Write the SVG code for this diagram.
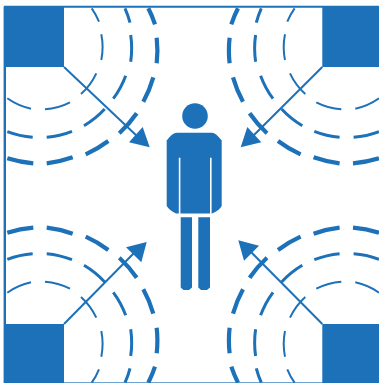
<svg xmlns="http://www.w3.org/2000/svg" width="379" height="383" viewBox="0 0 379 383">
<style>
.a{fill:none;stroke:#1c71b9}
.r1{stroke-width:2}
.r2{stroke-width:3}
.r3{stroke-width:4.2}
.s{fill:#1c71b9}
.c{stroke:#1c71b9;stroke-width:2;fill:none}
.h{fill:#1c71b9}
.f{stroke:#1c71b9;fill:none}
</style>
<defs>
<g id="waves">
<path class="a r1" d="M91.7 8.3A64.5 64.5 0 0 1 99 21.7M101.3 34.3A64.5 64.5 0 0 1 101.3 60M96.3 73.3A64.5 64.5 0 0 1 81 94M70 102.3A64.5 64.5 0 0 1 45 109.3M31 108.7A64.5 64.5 0 0 1 7.3 98.3"/>
<path class="a r2" d="M125 8.3A92.5 92.5 0 0 1 130 22.7M130.7 35A92.5 92.5 0 0 1 130.7 61.7M125.7 75.7A92.5 92.5 0 0 1 113.3 98.7M104.7 109A92.5 92.5 0 0 1 84 125.7M72 131.3A92.5 92.5 0 0 1 46.7 137.3M32.7 137.3A92.5 92.5 0 0 1 7.3 131.7"/>
<path class="a r3" d="M148.3 8.3A118.5 118.5 0 0 1 155 24.3M156.7 37.7A118.5 118.5 0 0 1 156.7 63.3M153.3 77.3A118.5 118.5 0 0 1 143.3 101.7M136.7 113.3A118.5 118.5 0 0 1 119.3 133.3M108.3 141A118.5 118.5 0 0 1 85.7 154.3M72.7 157.3A118.5 118.5 0 0 1 46.7 163.3M33.3 163.3A118.5 118.5 0 0 1 7.3 158.3"/>
</g>
</defs>
<rect width="379" height="383" fill="#fff"/>
<g id="frame">
<path class="f" stroke-width="2.4" d="M4.8 6.5V383"/>
<path class="f" stroke-width="2" d="M4 6.8H379"/>
<path class="f" stroke-width="1" opacity=".7" d="M4 382.6H379"/>
</g>
<g id="waves-tl"><use href="#waves"/></g>
<g id="waves-tr"><use href="#waves" transform="matrix(-1 0 0 1 386.3 0)"/></g>
<g id="waves-bl"><use href="#waves" transform="matrix(1 0 0 -1 0 391)"/></g>
<g id="waves-br"><use href="#waves" transform="matrix(-1 0 0 -1 386.3 391)"/></g>
<g id="source-tl"><rect class="s" x="4" y="7" width="60" height="60"/></g>
<g id="source-tr"><rect class="s" x="322.3" y="7" width="56.7" height="60"/></g>
<g id="source-bl"><rect class="s" x="4" y="324" width="60" height="59"/></g>
<g id="source-br"><rect class="s" x="322.3" y="324" width="56.7" height="59"/></g>
<g id="connectors">
<path class="c" d="M64 67L138 137"/><path class="h" d="M149.7 147.3L142.7 127L129 142.3Z"/>
<path class="c" d="M322.3 67L252 137"/><path class="h" d="M240.7 147.3L247.3 127L261.3 142.3Z"/>
<path class="c" d="M64 324L135 252"/><path class="h" d="M146.7 242L126 247.3L141.3 262.3Z"/>
<path class="c" d="M322.3 324L250 251"/><path class="h" d="M238.3 240.3L259 245.7L244 260.7Z"/>
</g>
<g id="person">
<circle class="s" cx="195" cy="116" r="12.8"/>
<path class="s" d="M177 132.7H212Q216 133 221.7 140.5V206Q219 211 212 213.5H176Q170 211 166.7 206V140.5Q172 133 177 132.7Z"/>
<path d="M179.6 157.7V214M210.8 157.7V214" stroke="#fff" stroke-width="1.6" fill="none"/>
<path class="s" d="M180.7 217.3H192V287.5L189 290H183.5L180.7 287.5Z"/>
<path class="s" d="M198.3 217.3H210V287.5L207 290H201L198.3 287.5Z"/>
</g>
</svg>
